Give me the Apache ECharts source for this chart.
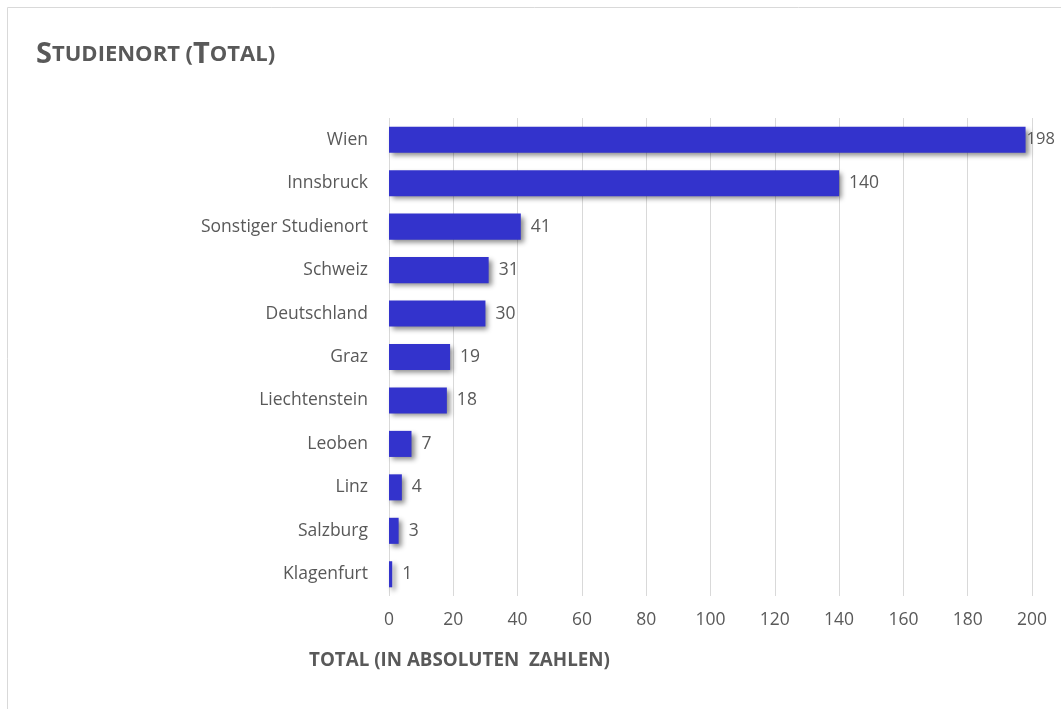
<!DOCTYPE html>
<html>
<head>
<meta charset="utf-8">
<script src="https://cdn.jsdelivr.net/npm/echarts@6/dist/echarts.min.js"></script>
<style>html,body{margin:0;padding:0;background:#fff;}#c{width:1061px;height:709px;}</style>
</head>
<body>
<div id="c"></div>
<script>
const categories = ["Wien", "Innsbruck", "Sonstiger Studienort", "Schweiz", "Deutschland", "Graz", "Liechtenstein", "Leoben", "Linz", "Salzburg", "Klagenfurt"];
const values = [198, 140, 41, 31, 30, 19, 18, 7, 4, 3, 1];
const xTicks = [0, 20, 40, 60, 80, 100, 120, 140, 160, 180, 200];

const chart = echarts.init(document.getElementById('c'));
const font = "'Open Sans', 'Noto Sans', sans-serif";
const maxVal = Math.max(...values);
const seriesData = values.map(v => v === maxVal ? {value: v, label: {distance: 1, fontSize: 16.5}} : v);
chart.setOption({
  animation: false,
  graphic: [{
    type: 'rect',
    shape: {x: 7.5, y: 7.5, width: 1200, height: 1200},
    style: {fill: 'none', stroke: '#d9d9d9', lineWidth: 1},
    silent: true
  }],
  title: [{
    left: 31, top: 35,
    text: '{b|S}{s|TUDIENORT (}{b|T}{s|OTAL)}',
    textStyle: {
      rich: {
        b: {fontSize: 29, fontWeight: 'bold', color: '#595959', fontFamily: font},
        s: {fontSize: 22, fontWeight: 'bold', color: '#595959', fontFamily: font}
      }
    }
  }, {
    left: 304, top: 646,
    text: 'TOTAL (IN ABSOLUTEN  ZAHLEN)',
    textStyle: {fontSize: 18.8, fontWeight: 'bold', color: '#595959', fontFamily: font}
  }],
  grid: {left: 389, right: 29, top: 118, bottom: 113},
  xAxis: {
    type: 'value', min: 0, max: 200, interval: 20,
    axisLine: {show: false}, axisTick: {show: false},
    splitLine: {lineStyle: {color: '#d9d9d9', width: 1}},
    axisLabel: {
      color: '#595959', fontSize: 17.5, fontFamily: font, margin: 15,
      formatter: v => xTicks.includes(v) ? String(v) : ''
    }
  },
  yAxis: {
    type: 'category', data: categories, inverse: true,
    axisLine: {show: false}, axisTick: {show: false},
    axisLabel: {color: '#595959', fontSize: 17.5, fontFamily: font, margin: 21, padding: [3, 0, 0, 0]}
  },
  series: [{
    type: 'bar', data: seriesData, barCategoryGap: '40%',
    itemStyle: {
      color: '#3333cc',
      shadowColor: 'rgba(0,0,0,0.45)', shadowBlur: 5, shadowOffsetX: 3, shadowOffsetY: 3
    },
    label: {
      show: true, position: 'right', distance: 10,
      color: '#595959', fontSize: 17.5, fontFamily: font, padding: [3, 0, 0, 0]
    }
  }]
});
</script>
</body>
</html>
